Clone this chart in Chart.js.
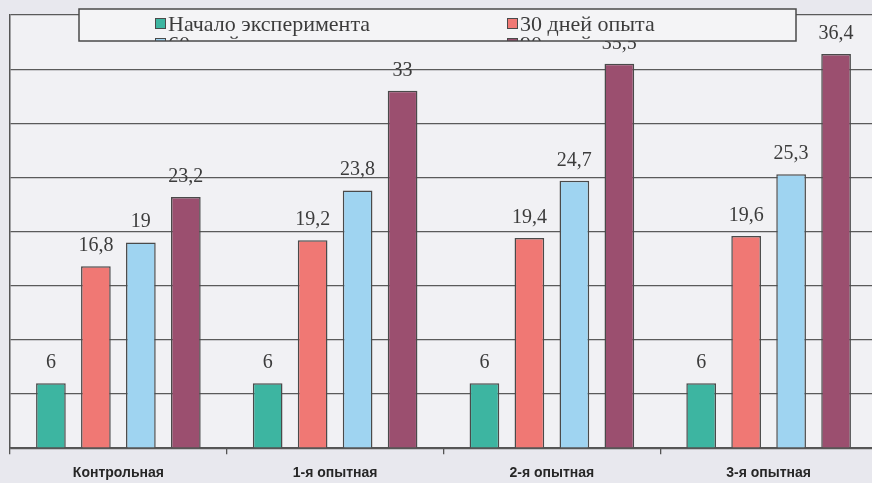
<!DOCTYPE html>
<html lang="ru">
<head>
<meta charset="utf-8">
<title>Динамика показателя по группам</title>
<script src="https://cdn.jsdelivr.net/npm/chart.js@4.4.0/dist/chart.umd.min.js"></script>
<style>
    html, body { margin: 0; padding: 0; overflow: hidden; background: #e8e8ee; }
    #wrap { position: relative; width: 880px; height: 493px; }
</style>
</head>
<body>
<div id="wrap"><canvas id="chart"></canvas></div>
<script>
// Data
const groups = ['Контрольная', '1-я опытная', '2-я опытная', '3-я опытная'];
const seriesNames = ['Начало эксперимента', '30 дней опыта', '60 дней опыта', '90 дней опыта'];
const startValues = [6, 6, 6, 6];
const day30Values = [16.8, 19.2, 19.4, 19.6];
const day60Values = [19, 23.8, 24.7, 25.3];
const day90Values = [23.2, 33, 35.5, 36.4];
const seriesColors = ['#3db5a1', '#f07874', '#9fd4f1', '#9b4f6f'];
const yMax = 40;
const yStep = 5;

const serifFont = '"Liberation Serif", "Times New Roman", serif';

/**
 * Light fill behind the plot area
 */
const plotBackground = {
    id: 'plotBackground',
    beforeDraw(chart) {
        const { ctx, chartArea: a } = chart;
        ctx.save();
        ctx.fillStyle = '#f1f1f4';
        ctx.fillRect(a.left, a.top, a.right - a.left, a.bottom - a.top);
        ctx.restore();
    }
};

/**
 * Value labels above every bar, decimal comma
 */
const valueLabels = {
    id: 'valueLabels',
    afterDatasetsDraw(chart) {
        const { ctx } = chart;
        ctx.save();
        ctx.font = '20px ' + serifFont;
        ctx.fillStyle = '#3c3c3c';
        ctx.textAlign = 'center';
        ctx.textBaseline = 'alphabetic';
        chart.data.datasets.forEach((ds, i) => {
            chart.getDatasetMeta(i).data.forEach((bar, j) => {
                const text = String(ds.data[j]).replace('.', ',');
                ctx.fillText(text, bar.x, bar.y - 15);
            });
        });
        ctx.restore();
    }
};

/**
 * Boxed legend laid over the top of the plot, two columns,
 * second row cut by the box edge as in the original
 */
const boxLegend = {
    id: 'boxLegend',
    afterDraw(chart) {
        const { ctx, chartArea: a } = chart;
        const box = { x: a.left + 69, y: 9, w: 717, h: 32 };
        const colX = [box.x + 76, box.x + 428];
        const rowY = [box.y + 9, box.y + 29];

        ctx.save();
        ctx.fillStyle = '#f4f4f6';
        ctx.fillRect(box.x, box.y, box.w, box.h);

        ctx.save();
        ctx.beginPath();
        ctx.rect(box.x, box.y, box.w, box.h);
        ctx.clip();
        ctx.font = '22px ' + serifFont;
        ctx.textBaseline = 'middle';
        ctx.textAlign = 'left';
        chart.data.datasets.forEach((ds, i) => {
            const x = colX[i % 2];
            const y = rowY[Math.floor(i / 2)];
            ctx.fillStyle = ds.backgroundColor;
            ctx.fillRect(x, y, 11, 11);
            ctx.strokeStyle = '#4a4a4a';
            ctx.lineWidth = 1;
            ctx.strokeRect(x + 0.5, y + 0.5, 10, 10);
            ctx.fillStyle = '#3c3c3c';
            ctx.fillText(ds.label, x + 13, y + 7);
        });
        ctx.restore();

        ctx.strokeStyle = '#4a4a4a';
        ctx.lineWidth = 1.5;
        ctx.strokeRect(box.x, box.y, box.w, box.h);
        ctx.restore();
    }
};

const seriesData = [startValues, day30Values, day60Values, day90Values];

new Chart(document.getElementById('chart'), {
    type: 'bar',
    data: {
        labels: groups,
        datasets: seriesNames.map((name, i) => ({
            label: name,
            data: seriesData[i],
            backgroundColor: seriesColors[i],
            borderColor: '#4a4a4a',
            borderWidth: 1.5,
            categoryPercentage: 0.83,
            barPercentage: 0.66
        }))
    },
    options: {
        responsive: true,
        maintainAspectRatio: false,
        animation: false,
        layout: {
            padding: { left: 10, top: 15, right: 3, bottom: 0 }
        },
        plugins: {
            legend: { display: false },
            tooltip: { enabled: false }
        },
        scales: {
            x: {
                grid: {
                    display: true,
                    drawOnChartArea: false,
                    color: '#555',
                    lineWidth: 1.3,
                    tickLength: 6
                },
                border: { display: true, color: '#555', width: 1.5 },
                ticks: {
                    color: '#262626',
                    padding: 11,
                    font: { family: '"Liberation Sans Narrow", "Liberation Sans", Arial, sans-serif', size: 14, weight: 'bold' }
                }
            },
            y: {
                min: 0,
                max: yMax,
                ticks: { display: false, stepSize: yStep },
                grid: { color: '#5a5a5a', lineWidth: 1.3, drawTicks: false },
                border: { display: true, color: '#555', width: 1.5 }
            }
        }
    },
    plugins: [plotBackground, valueLabels, boxLegend]
});
</script>
</body>
</html>
